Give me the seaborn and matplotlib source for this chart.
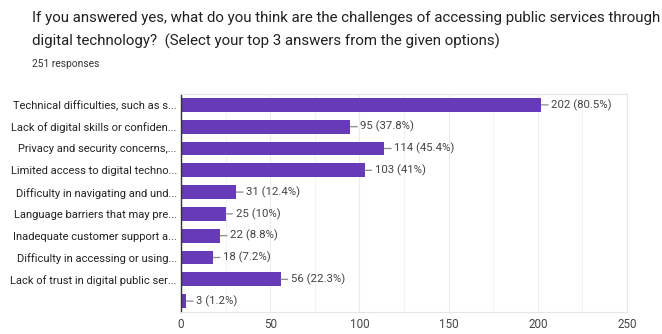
import matplotlib
matplotlib.use("Agg")
import matplotlib.pyplot as plt
import pandas as pd
import seaborn as sns
from matplotlib.ticker import MultipleLocator

# Survey question and counts
title_lines = [
    "If you answered yes, what do you think are the challenges of accessing public services through",
    "digital technology?  (Select your top 3 answers from the given options)",
]
subtitle = "251 responses"
total_responses = 251

categories = [
    "Technical difficulties, such as s...",
    "Lack of digital skills or confiden...",
    "Privacy and security concerns,...",
    "Limited access to digital techno...",
    "Difficulty in navigating and und...",
    "Language barriers that may pre...",
    "Inadequate customer support a...",
    "Difficulty in accessing or using...",
    "Lack of trust in digital public ser...",
    "",
]
counts = [202, 95, 114, 103, 31, 25, 22, 18, 56, 3]
x_ticks = [0, 50, 100, 150, 200, 250]

df = pd.DataFrame({"option": categories, "count": counts})

sns.set_theme(style="white")
plt.rcParams["font.family"] = ["Roboto", "DejaVu Sans"]

W, H = 662, 334
fig = plt.figure(figsize=(W / 100, H / 100), dpi=100)
ax = fig.add_axes([181 / W, 1 - 312 / H, (627 - 181) / W, (312 - 94) / H])

sns.barplot(data=df, x="count", y="option", order=categories, orient="h",
            color="#673ab7", saturation=1, width=0.64, linewidth=0, ax=ax)

ax.set_xlim(0, 250)
ax.set_xticks(x_ticks)
ax.xaxis.set_minor_locator(MultipleLocator(25))
ax.grid(axis="x", which="major", color="#ececec", lw=0.8)
ax.grid(axis="x", which="minor", color="#f3f3f3", lw=0.8)
ax.set_axisbelow(True)
ax.set_xlabel("")
ax.set_ylabel("")

for side in ("top", "right", "bottom"):
    ax.spines[side].set_color("#e6e6e6")
    ax.spines[side].set_linewidth(0.8)
ax.spines["left"].set_color("#333333")
ax.spines["left"].set_linewidth(1.0)

ax.tick_params(axis="y", length=0, pad=3, labelsize=8.0, labelcolor="#222222")
ax.tick_params(axis="x", length=0, pad=4.5, labelsize=8.4, labelcolor="#444444")

# Value labels with a short leader line
for i, c in enumerate(counts):
    pct = round(c / total_responses * 100, 1)
    label = f"{c} ({pct:g}%)"
    ax.annotate(label, xy=(c, i), xytext=(10, 0), textcoords="offset pixels",
                va="center", ha="left", fontsize=8.2, color="#444444",
                arrowprops=dict(arrowstyle="-", color="#8a8a8a", lw=0.9,
                                shrinkA=0, shrinkB=0, relpos=(0.01, 0.5)))

# Question text and response count
fig.text(32 / W, 1 - 22 / H, title_lines[0], fontsize=10.8, color="#202124",
         va="baseline", ha="left")
fig.text(32 / W, 1 - 46 / H, title_lines[1], fontsize=10.8, color="#202124",
         va="baseline", ha="left")
fig.text(32 / W, 1 - 67 / H, subtitle, fontsize=7.4, color="#333333",
         va="baseline", ha="left")

fig.savefig("out.png", dpi=100, facecolor="white")
